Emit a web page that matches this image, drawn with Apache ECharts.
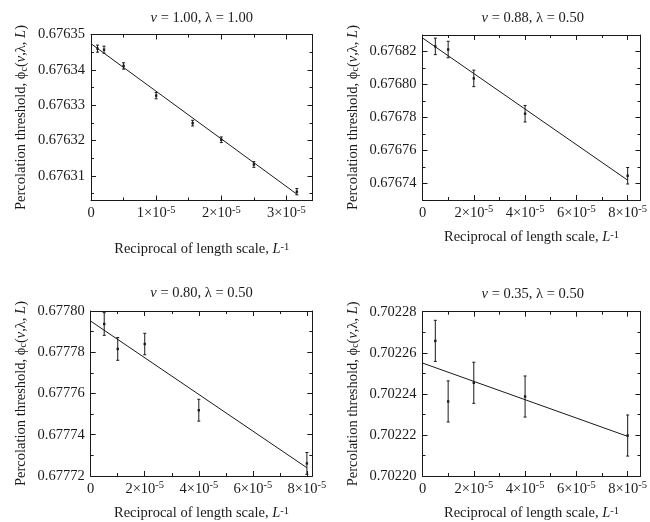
<!DOCTYPE html>
<html><head><meta charset="utf-8">
<script src="https://cdn.jsdelivr.net/npm/echarts@6/dist/echarts.min.js"></script>
<style>html,body{margin:0;padding:0;background:#fff}#c{width:650px;height:522px}</style>
</head><body><div id="c"></div>
<script>
// ---------- data ----------
// Panel 1: nu = 1.00, lambda = 1.00
const x1 = [0.1e-5, 0.2e-5, 0.5e-5, 1e-5, 1.56e-5, 2e-5, 2.5e-5, 3.16e-5];
const y1 = [0.6763460, 0.6763457, 0.6763411, 0.6763327, 0.6763249, 0.6763202, 0.6763132, 0.6763055];
const e1 = [0.0000010, 0.0000010, 0.0000009, 0.0000009, 0.0000008, 0.0000008, 0.0000008, 0.0000009];
const fitX1 = [0, 3.16e-5];
const fitY1 = [0.6763474, 0.6763048];
// Panel 2: nu = 0.88, lambda = 0.50
const x2 = [0.5e-5, 1e-5, 2e-5, 4e-5, 8e-5];
const y2 = [0.6768231, 0.6768212, 0.6768037, 0.6767823, 0.6767447];
const e2 = [0.000005, 0.000005, 0.000005, 0.000005, 0.000005];
const fitX2 = [0, 8e-5];
const fitY2 = [0.6768282, 0.6767420];
// Panel 3: nu = 0.80, lambda = 0.50
const x3 = [0.5e-5, 1e-5, 2e-5, 4e-5, 8e-5];
const y3 = [0.6777937, 0.6777816, 0.6777840, 0.6777519, 0.6777261];
const e3 = [0.0000055, 0.0000055, 0.0000052, 0.0000053, 0.0000053];
const fitX3 = [0, 8e-5];
const fitY3 = [0.6777951, 0.6777240];
// Panel 4: nu = 0.35, lambda = 0.50
const x4 = [0.5e-5, 1e-5, 2e-5, 4e-5, 8e-5];
const y4 = [0.7022658, 0.7022363, 0.7022454, 0.7022387, 0.7022197];
const e4 = [0.00001, 0.00001, 0.00001, 0.00001, 0.00001];
const fitX4 = [0, 8e-5];
const fitY4 = [0.7022550, 0.7022193];

// titles
const nuVals = ['1.00', '0.88', '0.80', '0.35'];
const lamVals = ['1.00', '0.50', '0.50', '0.50'];

// tick values
const xMaj1 = [0, 1e-5, 2e-5, 3e-5];
const xMin1 = [0.5e-5, 1.5e-5, 2.5e-5];
const yMaj1 = [0.67631, 0.67632, 0.67633, 0.67634, 0.67635];
const yMin1 = [0.676305, 0.676315, 0.676325, 0.676335, 0.676345];
const xMaj2 = [0, 2e-5, 4e-5, 6e-5, 8e-5];
const xMin2 = [1e-5, 3e-5, 5e-5, 7e-5];
const yMaj2 = [0.67674, 0.67676, 0.67678, 0.67680, 0.67682];
const yMin2 = [0.67673, 0.67675, 0.67677, 0.67679, 0.67681, 0.67683];
const yMaj3 = [0.67772, 0.67774, 0.67776, 0.67778, 0.67780];
const yMin3 = [0.67773, 0.67775, 0.67777, 0.67779];
const yMaj4 = [0.70220, 0.70222, 0.70224, 0.70226, 0.70228];
const yMin4 = [0.70221, 0.70223, 0.70225, 0.70227];

// axis ranges
const xRange = [[0, 3.4e-5], [0, 8.5e-5], [0, 8.2e-5], [0, 8.5e-5]];
const yRange = [[0.676303, 0.67635], [0.67673, 0.67683], [0.67772, 0.67780], [0.70220, 0.70228]];

// ---------- layout / style ----------
const FONT = 'Liberation Serif';
const C = '#1a1a1a';
const FS = 14.5;
const panels = [
  {x:x1,y:y1,e:e1,fx:fitX1,fy:fitY1,xMaj:xMaj1,xMin:xMin1,yMaj:yMaj1,yMin:yMin1,
   grid:{left:91,top:34.5,width:221.5,height:166}, titleY:19.5, xGap:41, yGap:62},
  {x:x2,y:y2,e:e2,fx:fitX2,fy:fitY2,xMaj:xMaj2,xMin:xMin2,yMaj:yMaj2,yMin:yMin2,
   grid:{left:422.5,top:35,width:220.5,height:165}, titleY:19.5, xGap:30, yGap:62},
  {x:x3,y:y3,e:e3,fx:fitX3,fy:fitY3,xMaj:xMaj2,xMin:xMin2,yMaj:yMaj3,yMin:yMin3,
   grid:{left:90.7,top:311,width:221.6,height:165}, titleY:295, xGap:30, yGap:62},
  {x:x4,y:y4,e:e4,fx:fitX4,fy:fitY4,xMaj:xMaj2,xMin:xMin2,yMaj:yMaj4,yMin:yMin4,
   grid:{left:422.5,top:311.7,width:220.5,height:165}, titleY:295.5, xGap:30, yGap:62}
];

const richText = {
  a: {fontFamily: FONT, fontSize: FS, color: C, fontWeight: 'normal'},
  i: {fontFamily: FONT, fontSize: FS, color: C, fontStyle: 'italic', fontWeight: 'normal'},
  n: {fontFamily: FONT, fontSize: FS, color: C, lineHeight: 18, fontWeight: 'normal'},
  s: {fontFamily: FONT, fontSize: 10.5, color: C, verticalAlign: 'top', lineHeight: 7, fontWeight: 'normal'},
  sub: {fontFamily: FONT, fontSize: 10, color: C, verticalAlign: 'bottom', lineHeight: 10, fontWeight: 'normal'}
};

function fmtX(v) {
  if (Math.abs(v) < 1e-12) return '{n|0}';
  const k = Math.round(v / 1e-5);
  return '{n|' + k + '×10}{s|-5}';
}
function fmtY(v) { return '{n|' + v.toFixed(5) + '}'; }

const grid = [], xAxis = [], yAxis = [], series = [], title = [];
panels.forEach((p, k) => {
  grid.push(Object.assign({containLabel: false}, p.grid));
  const cx = p.grid.left + p.grid.width / 2;
  title.push({
    text: '{i|ν}{a| = ' + nuVals[k] + ', λ = ' + lamVals[k] + '}',
    left: cx, top: p.titleY - 9, textAlign: 'center', padding: 0,
    textStyle: {rich: richText, fontFamily: FONT, fontSize: FS, color: C, fontWeight: 'normal'}
  });
  const lineOn = {show: true, onZero: false, lineStyle: {color: C, width: 1}};
  const lineOff = {show: false, onZero: false};
  const mk = (pos, main, vals, len, extra) => Object.assign({
    type: 'value', gridIndex: k, position: pos,
    axisLine: main ? lineOn : lineOff,
    axisTick: {show: true, inside: true, length: len, customValues: vals, lineStyle: {color: C, width: 1}},
    axisLabel: {show: false},
    splitLine: {show: false}, minorTick: {show: false}
  }, extra);
  const [xmin, xmax] = xRange[k];
  const [ymin, ymax] = yRange[k];
  // x axes
  xAxis.push(mk('bottom', true, p.xMaj, 5, {
    min: xmin, max: xmax,
    axisLabel: {show: true, customValues: p.xMaj, margin: 4, formatter: fmtX, rich: richText,
                color: C, fontFamily: FONT, fontSize: FS},
    name: '{a|Reciprocal of length scale, }{i|L}{s|-1}',
    nameLocation: 'middle', nameGap: p.xGap,
    nameTextStyle: {rich: richText, fontFamily: FONT, fontSize: FS, color: C}
  }));
  xAxis.push(mk('bottom', false, p.xMin, 3, {min: xmin, max: xmax}));
  xAxis.push(mk('top', true, p.xMaj, 5, {min: xmin, max: xmax}));
  xAxis.push(mk('top', false, p.xMin, 3, {min: xmin, max: xmax}));
  // y axes
  yAxis.push(mk('left', true, p.yMaj, 5, {
    min: ymin, max: ymax,
    axisLabel: {show: true, customValues: p.yMaj, margin: 6, formatter: fmtY, rich: richText,
                color: C, fontFamily: FONT, fontSize: FS},
    name: '{a|Percolation threshold, ϕ}{sub|c}{a|(}{i|ν}{a|,λ, }{i|L}{a|)}',
    nameLocation: 'middle', nameGap: p.yGap, nameRotate: 90,
    nameTextStyle: {rich: richText, fontFamily: FONT, fontSize: FS, color: C}
  }));
  yAxis.push(mk('left', false, p.yMin, 3, {min: ymin, max: ymax}));
  yAxis.push(mk('right', true, p.yMaj, 5, {min: ymin, max: ymax}));
  yAxis.push(mk('right', false, p.yMin, 3, {min: ymin, max: ymax}));

  series.push({
    type: 'line', xAxisIndex: 4 * k, yAxisIndex: 4 * k,
    data: p.fx.map((v, i) => [v, p.fy[i]]),
    symbol: 'none', lineStyle: {color: C, width: 1}, animation: false, z: 2
  });
  series.push({
    type: 'custom', xAxisIndex: 4 * k, yAxisIndex: 4 * k, coordinateSystem: 'cartesian2d',
    data: p.x.map((v, i) => [v, p.y[i], p.e[i]]),
    animation: false, z: 3,
    renderItem: function (params, api) {
      const x = api.value(0), y = api.value(1), e = api.value(2);
      const t = api.coord([x, y + e]), b = api.coord([x, y - e]), c = api.coord([x, y]);
      const w = 1.5;
      const st = {stroke: C, lineWidth: 1};
      return {type: 'group', children: [
        {type: 'line', shape: {x1: t[0], y1: t[1], x2: b[0], y2: b[1]}, style: st},
        {type: 'line', shape: {x1: t[0] - w, y1: t[1], x2: t[0] + w, y2: t[1]}, style: st},
        {type: 'line', shape: {x1: b[0] - w, y1: b[1], x2: b[0] + w, y2: b[1]}, style: st},
        {type: 'rect', shape: {x: c[0] - 1.2, y: c[1] - 1.2, width: 2.4, height: 2.4}, style: {fill: C}}
      ]};
    }
  });
});

const chart = echarts.init(document.getElementById('c'), null, {renderer: 'canvas'});
chart.setOption({animation: false, backgroundColor: '#fff', title, grid, xAxis, yAxis, series});
</script></body></html>
